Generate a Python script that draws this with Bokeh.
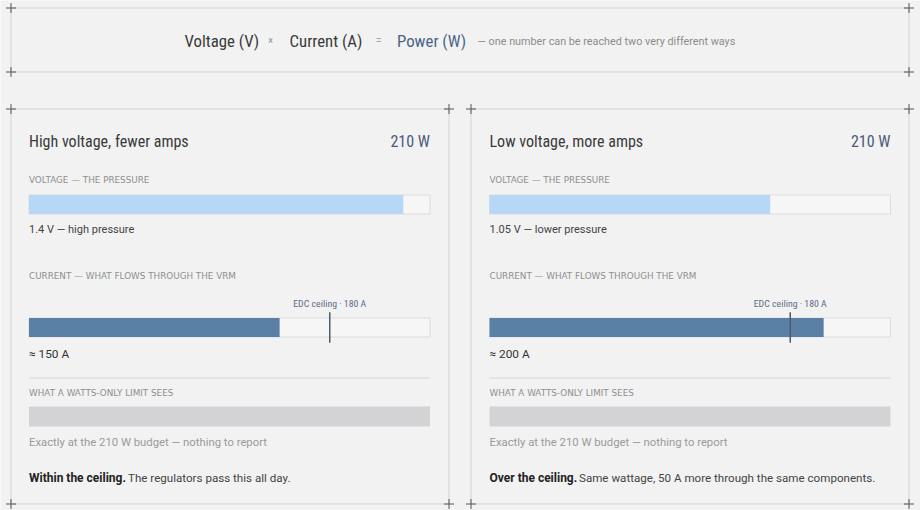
from bokeh.plotting import figure
from bokeh.models import Range1d
from bokeh.core.properties import value
from bokeh.embed import file_html
from bokeh.resources import INLINE

# ---------------- data ----------------
scenario_titles = ["High voltage, fewer amps", "Low voltage, more amps"]
power_w = [210, 210]
voltage_v = [1.4, 1.05]
voltage_notes = ["high pressure", "lower pressure"]
current_a = [150, 200]
edc_ceiling_a = 180
watt_budget_w = 210
voltage_axis_max = 1.5
current_axis_max = 240
verdict_bold = ["Within the ceiling.", "Over the ceiling."]
verdict_rest = ["The regulators pass this all day.",
                "Same wattage, 50 A more through the same components."]
section_labels = ["VOLTAGE \u2014 THE PRESSURE",
                  "CURRENT \u2014 WHAT FLOWS THROUGH THE VRM",
                  "WHAT A WATTS-ONLY LIMIT SEES"]
header_terms = ["Voltage (V)", "\u00d7", "Current (A)", "=", "Power (W)"]
header_note = "\u2014 one number can be reached two very different ways"

# ---------------- style ----------------
BG = "#f2f2f2"
COND = "Roboto Condensed, Noto Sans Condensed, DejaVu Sans Condensed, sans-serif"
BODY = "Roboto, sans-serif"
CAPS = "DejaVu Sans, sans-serif"
LINE = "#d3d3d3"
CROSS = "#555555"

W, H = 920, 510
p = figure(width=W, height=H, output_backend="svg", toolbar_location=None,
           x_range=Range1d(0, W), y_range=Range1d(H, 0),
           min_border=0, background_fill_color=BG, border_fill_color=BG)
p.axis.visible = False
p.grid.visible = False
p.outline_line_color = None


def txt(x, y, s, size, color, font=BODY, align="left", style="normal", baseline="middle"):
    p.text(x=[x], y=[y], text=[s], text_font=value(font), text_font_size=f"{size}px",
           text_color=color, text_align=align, text_baseline=baseline,
           text_font_style=style)


def frame_box(x0, x1, y0, y1):
    p.multi_line(xs=[[x0, x1], [x0, x1], [x0, x0], [x1, x1]],
                 ys=[[y0, y0], [y1, y1], [y0, y1], [y0, y1]],
                 line_color=LINE, line_width=1)
    cx, cy = [], []
    for (a, b) in [(x0, y0), (x1, y0), (x0, y1), (x1, y1)]:
        cx += [[a - 5, a + 5], [a, a]]
        cy += [[b, b], [b - 5, b + 5]]
    p.multi_line(xs=cx, ys=cy, line_color=CROSS, line_width=1)


# ---------------- header ----------------
frame_box(10.5, 908.5, 7.5, 71.5)
hx = [184, 270, 289, 378, 396.5]
hcol = ["#3a3a3a", "#7d8ea6", "#3a3a3a", "#93a6bd", "#4a6488"]
hsize = [16.8, 10, 16.8, 12, 16.8]
halign = ["left", "center", "left", "center", "left"]
for i, t in enumerate(header_terms):
    txt(hx[i], 40, t, hsize[i], hcol[i], font=COND, align=halign[i])
txt(477, 40.5, header_note, 10.8, "#8c8c8c")

# ---------------- panels ----------------
panel_x0 = [10.5, 470.5]
panel_x1 = [448.5, 908.5]
track_x0 = [28.5, 489]
track_x1 = [429.5, 890]
verdict_rest_x = [127.5, 578.5]

for i in range(2):
    x0, x1 = track_x0[i], track_x1[i]
    frame_box(panel_x0[i], panel_x1[i], 108.5, 503.5)

    txt(x0, 141, scenario_titles[i], 16, "#3a3a3a", font=COND)
    txt(x1, 141, f"{power_w[i]} W", 16, "#4a5a78", font=COND, align="right")

    # voltage
    txt(x0, 179, section_labels[0], 8.8, "#8f8f8f", font=CAPS)
    sv = p.subplot(x_source=Range1d(0, voltage_axis_max), y_source=Range1d(0, 1),
                   x_target=Range1d(x0, x1), y_target=Range1d(213.5, 194.5))
    sv.quad(left=[0], right=[voltage_axis_max], bottom=[0], top=[1],
            fill_color="#f6f6f6", line_color="#dcdcdc", line_width=1)
    sv.quad(left=[0], right=[voltage_v[i]], bottom=[0], top=[1],
            fill_color="#b6d7f6", line_color=None)
    txt(x0, 229, f"{voltage_v[i]} V \u2014 {voltage_notes[i]}", 11, "#444444")

    # current
    txt(x0, 275, section_labels[1], 8.8, "#8f8f8f", font=CAPS)
    sc = p.subplot(x_source=Range1d(0, current_axis_max), y_source=Range1d(0, 1),
                   x_target=Range1d(x0, x1), y_target=Range1d(336.5, 317.5))
    sc.quad(left=[0], right=[current_axis_max], bottom=[0], top=[1],
            fill_color="#f6f6f6", line_color="#dcdcdc", line_width=1)
    sc.quad(left=[0], right=[current_a[i]], bottom=[0], top=[1],
            fill_color="#5b80a5", line_color=None)
    sc.segment(x0=[edc_ceiling_a], x1=[edc_ceiling_a], y0=[-0.3], y1=[1.3],
               line_color="#4c5b70", line_width=1.5)
    sc.text(x=[edc_ceiling_a], y=[1.75], text=[f"EDC ceiling \u00b7 {edc_ceiling_a} A"],
            text_font=value(COND), text_font_size="9.8px", text_color="#5d6d85",
            text_align="center", text_baseline="middle")
    txt(x0, 353, f"\u2248 {current_a[i]} A", 11.8, "#333333")

    # divider
    p.segment(x0=[x0], x1=[x1], y0=[377.5], y1=[377.5], line_color="#e3e3e3", line_width=2)

    # watts
    txt(x0, 392, section_labels[2], 8.8, "#8f8f8f", font=CAPS)
    sw = p.subplot(x_source=Range1d(0, watt_budget_w), y_source=Range1d(0, 1),
                   x_target=Range1d(x0, x1), y_target=Range1d(426, 406))
    sw.quad(left=[0], right=[power_w[i]], bottom=[0], top=[1],
            fill_color="#d3d3d5", line_color=None)
    txt(x0, 442, f"Exactly at the {watt_budget_w} W budget \u2014 nothing to report", 11.3, "#9a9a9a")

    txt(x0, 477, verdict_bold[i], 12, "#222222", style="bold")
    txt(verdict_rest_x[i], 477, verdict_rest[i], 11.6, "#444444")

open("out.html", "w").write(file_html(p, INLINE))
